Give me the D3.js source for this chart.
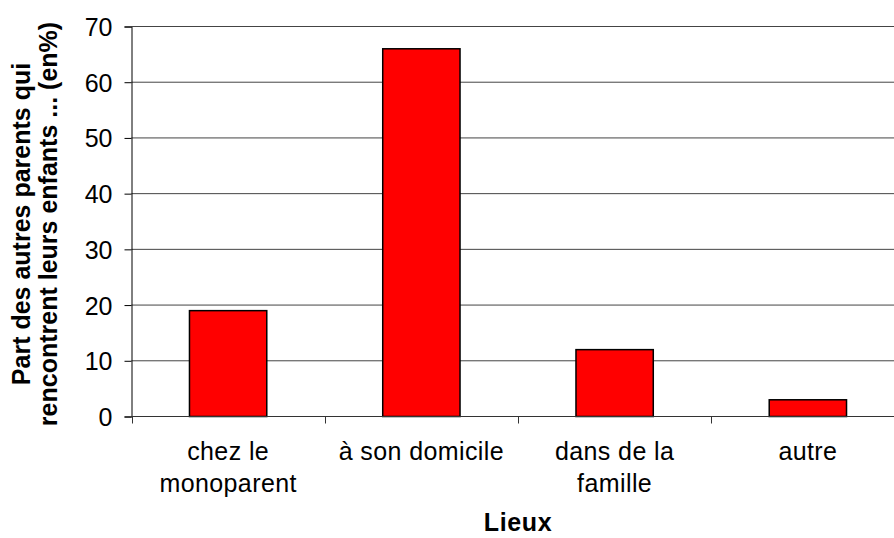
<!DOCTYPE html>
<html>
<head>
<meta charset="utf-8">
<script src="https://cdn.jsdelivr.net/npm/d3@7"></script>
<style>
  body { margin: 0; background: #fff; }
  text { font-family: "Liberation Sans", Arial, sans-serif; fill: #000; }
</style>
</head>
<body>
<svg class="chart"></svg>
<script>
// values
var lieux = ["chez le monoparent", "à son domicile", "dans de la famille", "autre"]
var lieuxLines = [["chez le", "monoparent"], ["à son domicile"], ["dans de la", "famille"], ["autre"]]
var parts = [19, 66, 12, 3]
var yTicks = [0, 10, 20, 30, 40, 50, 60, 70]

var width = 894;
var height = 538;
var svg = d3.select(".chart").attr("width", width).attr("height", height)

var x_scale = d3.scaleBand()
    .domain(lieux)
    .range([131.5, 904.5])
    .paddingInner(0.6)
    .paddingOuter(0.3);

var y_scale = d3.scaleLinear()
    .domain([0, 70])
    .range([416.5, 26.5]);

// gridlines
svg.append("g")
  .selectAll("line")
  .data(yTicks.slice(1))
  .enter().append("line")
    .attr("x1", 131.5)
    .attr("x2", width)
    .attr("y1", function(d){ return y_scale(d) })
    .attr("y2", function(d){ return y_scale(d) })
    .attr("stroke", "#444")
    .attr("stroke-width", 1);

// bars
svg.append("g")
  .selectAll("rect")
  .data(parts)
  .enter().append("rect")
    .attr("x", function(d, i){ return x_scale(lieux[i]) })
    .attr("y", function(d){ return y_scale(d) })
    .attr("width", x_scale.bandwidth())
    .attr("height", function(d){ return y_scale(0) - y_scale(d) })
    .attr("fill", "#ff0000")
    .attr("stroke", "#000")
    .attr("stroke-width", 1.5);

// y axis
var y_axis = d3.axisLeft(y_scale).tickValues(yTicks).tickSize(7).tickPadding(12);
var gy = svg.append("g")
    .attr("transform", "translate(131.5,0)")
    .call(y_axis);
gy.select(".domain").attr("stroke", "#000");
gy.selectAll(".tick line").attr("stroke", "#000");
gy.selectAll(".tick text")
    .style("font-size", "25px")
    .attr("dy", "0.36em");

// x axis (ticks at category boundaries)
var bounds = lieux.map(function(d){ return x_scale(d) - x_scale.bandwidth() * 0.75 });
svg.append("line")
    .attr("x1", 131.5).attr("x2", width)
    .attr("y1", y_scale(0)).attr("y2", y_scale(0))
    .attr("stroke", "#333");
svg.append("g")
  .selectAll("line")
  .data(bounds)
  .enter().append("line")
    .attr("x1", function(d){ return Math.round(d) + 0.5 })
    .attr("x2", function(d){ return Math.round(d) + 0.5 })
    .attr("y1", y_scale(0))
    .attr("y2", y_scale(0) + 7)
    .attr("stroke", "#333");

var labels = svg.append("g")
  .selectAll("text")
  .data(lieux)
  .enter().append("text")
    .attr("text-anchor", "middle")
    .attr("transform", function(d){ return "translate(" + (x_scale(d) + x_scale.bandwidth() / 2) + ",0)" })
    .style("font-size", "25px")
    .style("letter-spacing", "0.4px");
labels.selectAll("tspan")
  .data(function(d, i){ return lieuxLines[i] })
  .enter().append("tspan")
    .attr("x", 0)
    .attr("y", function(d, j){ return 460 + j * 32 })
    .text(function(d){ return d });

// axis titles
svg.append("text")
    .attr("text-anchor", "middle")
    .attr("x", 518)
    .attr("y", 531)
    .style("font-size", "25px")
    .style("font-weight", "bold")
    .style("letter-spacing", "0.6px")
    .text("Lieux");

var yTitle = svg.append("text")
    .attr("text-anchor", "middle")
    .attr("transform", "translate(0,224) rotate(-90)")
    .style("font-size", "25px")
    .style("font-weight", "bold");
yTitle.append("tspan").attr("x", 0).attr("y", 30).text("Part des autres parents qui");
yTitle.append("tspan").attr("x", 0).attr("y", 57).text("rencontrent leurs enfants ... (en%)");
</script>
</body>
</html>
